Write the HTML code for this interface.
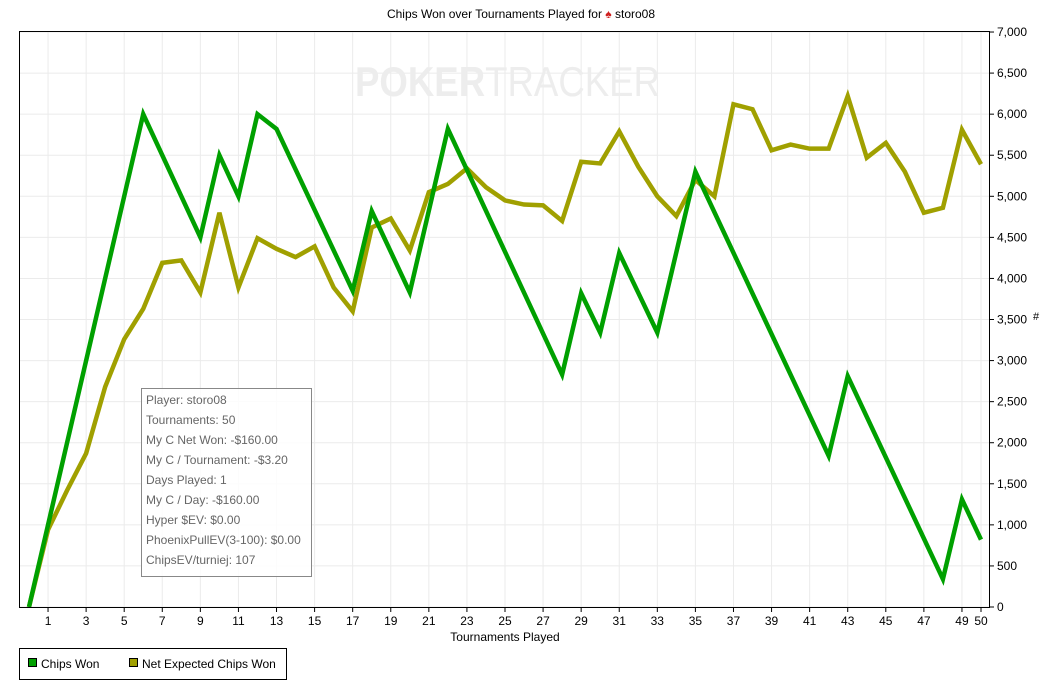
<!DOCTYPE html>
<html><head><meta charset="utf-8"><style>
body{margin:0;background:#fff;width:1042px;height:682px;overflow:hidden;font-family:"Liberation Sans",sans-serif}
</style></head><body>
<svg width="1042" height="682" xmlns="http://www.w3.org/2000/svg" font-family="Liberation Sans, sans-serif">
<text x="521" y="18" text-anchor="middle" font-size="12" fill="#000">Chips Won over Tournaments Played for <tspan fill="#d02020">♠</tspan> storo08</text>
<g id="grid" stroke="#ebebeb" stroke-width="1"></g>
<text x="355" y="96" font-size="42" font-weight="bold" fill="#ededed" textLength="305" lengthAdjust="spacingAndGlyphs">POKER<tspan font-weight="normal">TRACKER</tspan></text>
<g id="series"></g>
<rect x="19.5" y="31.5" width="970" height="576" fill="none" stroke="#000"/>
<g id="ticks" font-size="12" fill="#000"></g>
<text x="505" y="641" text-anchor="middle" font-size="12">Tournaments Played</text>
<text x="1036" y="320" font-size="11" text-anchor="middle">#</text>
<rect x="141.5" y="388.5" width="170" height="188" fill="#fff" fill-opacity="0.85" stroke="#888"/>
<g font-size="12" fill="#666">
<text x="146" y="404">Player: storo08</text>
<text x="146" y="424">Tournaments: 50</text>
<text x="146" y="444">My C Net Won: -$160.00</text>
<text x="146" y="464">My C / Tournament: -$3.20</text>
<text x="146" y="484">Days Played: 1</text>
<text x="146" y="504">My C / Day: -$160.00</text>
<text x="146" y="524">Hyper $EV: $0.00</text>
<text x="146" y="544">PhoenixPullEV(3-100): $0.00</text>
<text x="146" y="564">ChipsEV/turniej: 107</text>
</g>
<rect x="19.5" y="648.5" width="267" height="31" fill="#fff" stroke="#000"/>
<rect x="28.5" y="658.5" width="8" height="8" fill="#00a000" stroke="#000"/>
<text x="41" y="668" font-size="12">Chips Won</text>
<rect x="129.5" y="658.5" width="8" height="8" fill="#a0a000" stroke="#000"/>
<text x="142" y="668" font-size="12">Net Expected Chips Won</text>
</svg>
<script>
var X=i=>29+19.04*i, Y=v=>607-v*0.08214;
var g=document.getElementById('grid'),t=document.getElementById('ticks'),s=document.getElementById('series');
var h='',tt='';
for(var v=0;v<=7000;v+=500){var y=Y(v);h+='<line x1="20" x2="989" y1="'+y+'" y2="'+y+'"/>';tt+='<line x1="989" x2="994" y1="'+y+'" y2="'+y+'" stroke="#000"/><text x="997" y="'+(y+4)+'">'+v.toLocaleString('en-US')+'</text>';}
var xs=[];for(var i=1;i<=49;i+=2)xs.push(i);xs.push(50);
xs.forEach(function(i){var x=X(i);h+='<line x1="'+x+'" x2="'+x+'" y1="32" y2="607"/>';tt+='<line x1="'+x+'" x2="'+x+'" y1="607" y2="612" stroke="#000"/><text x="'+x+'" y="625" text-anchor="middle">'+i+'</text>';});
g.innerHTML=h;t.innerHTML=tt;
var G={0:0,6:6000,9:4500,10:5500,11:5000,12:6000,13:5820,17:3850,18:4820,20:3830,22:5820,28:2830,29:3820,30:3340,31:4310,33:3340,35:5300,42:1840,43:2810,48:340,49:1310,50:820};
var O=[0,940,1420,1870,2680,3260,3630,4190,4220,3830,4800,3890,4490,4360,4260,4390,3890,3600,4620,4730,4340,5050,5150,5340,5110,4950,4900,4890,4700,5420,5400,5790,5360,5000,4760,5200,5000,6120,6060,5560,5630,5580,5580,6220,5470,5650,5300,4800,4860,5810,5390];
var gp=Object.keys(G).map(k=>X(+k)+','+Y(G[k])).join(' ');
var op=O.map((v,i)=>X(i)+','+Y(v)).join(' ');
s.innerHTML='<polyline points="'+op+'" fill="none" stroke="#a0a000" stroke-width="4.5" stroke-linejoin="miter"/><polyline points="'+gp+'" fill="none" stroke="#00a000" stroke-width="4.5" stroke-linejoin="miter"/>';
</script>
</body></html>
